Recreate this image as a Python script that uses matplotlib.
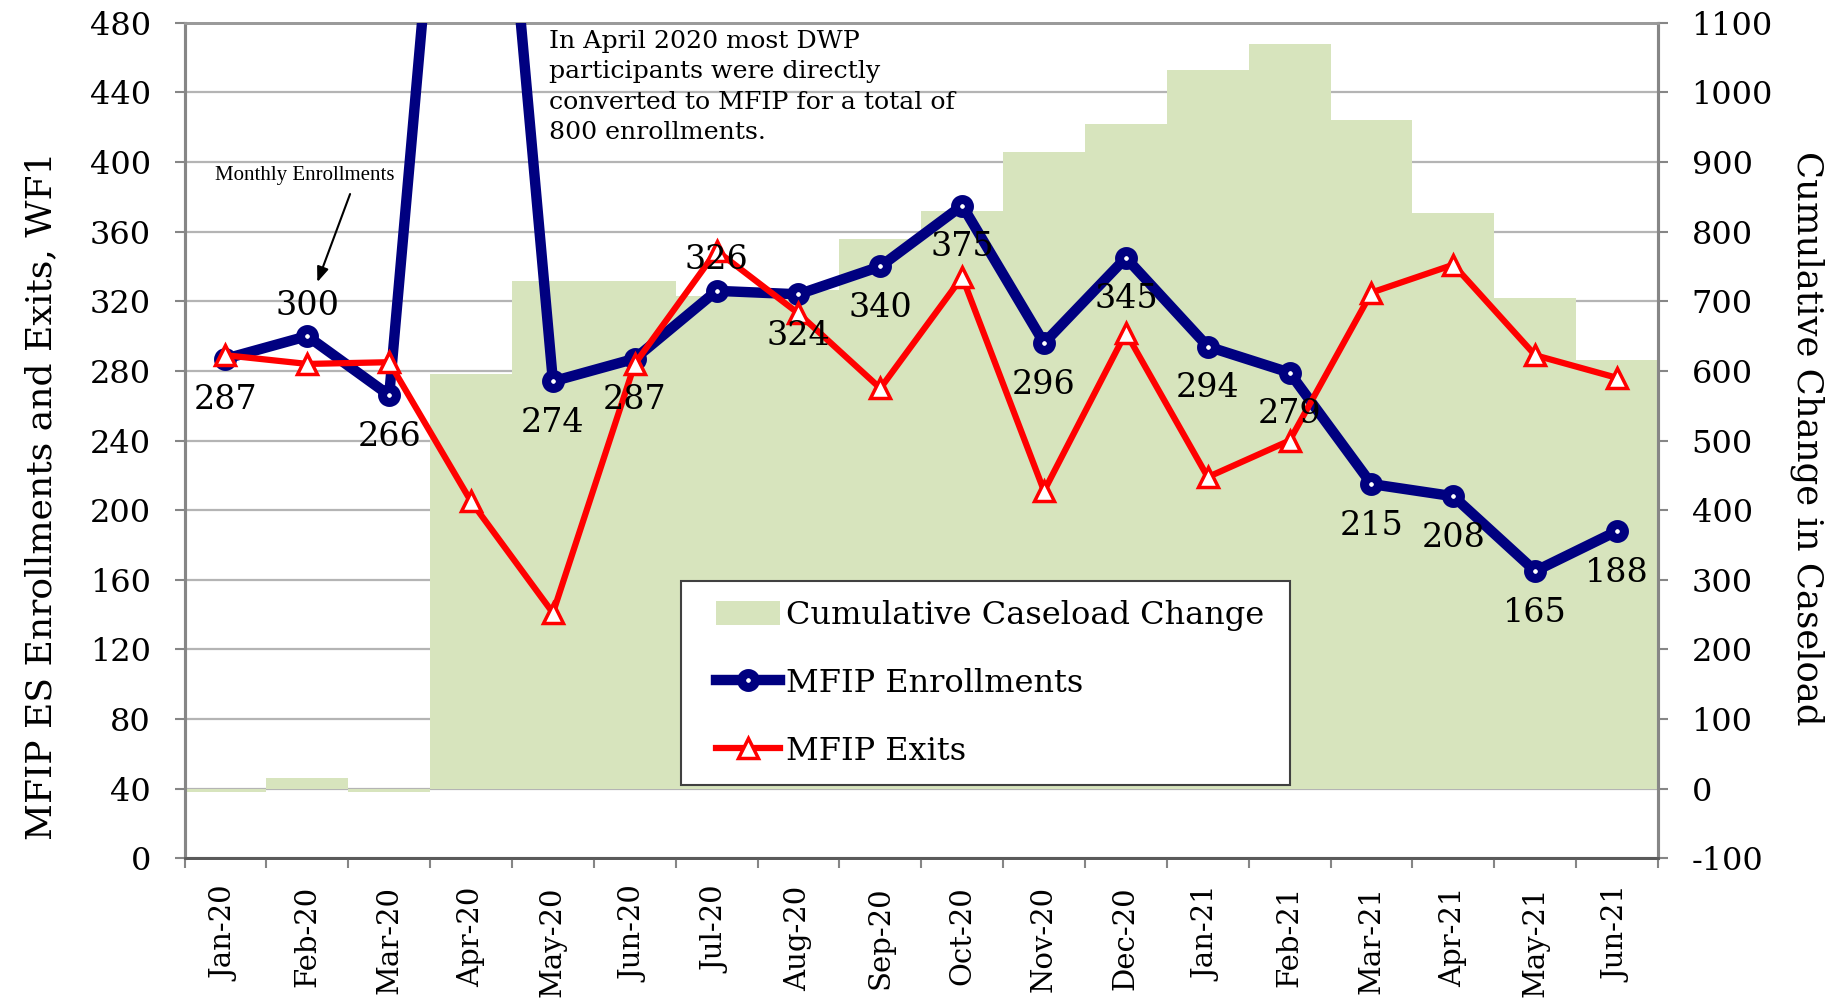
import numpy as np
import matplotlib
matplotlib.use('Agg')
import matplotlib.pyplot as plt
from matplotlib.patches import Rectangle, Patch
from matplotlib.lines import Line2D

plt.rcParams['font.family'] = ['DejaVu Serif']
plt.rcParams['axes.unicode_minus'] = False

months = ['Jan-20', 'Feb-20', 'Mar-20', 'Apr-20', 'May-20', 'Jun-20',
          'Jul-20', 'Aug-20', 'Sep-20', 'Oct-20', 'Nov-20', 'Dec-20',
          'Jan-21', 'Feb-21', 'Mar-21', 'Apr-21', 'May-21', 'Jun-21']
enrollments = [287, 300, 266, 800, 274, 287, 326, 324, 340, 375, 296, 345,
               294, 279, 215, 208, 165, 188]
exits = [289, 284, 285, 205, 141, 284, 349, 313, 270, 334, 211, 302,
         219, 240, 325, 341, 289, 276]
caseload_change = [-5, 16, -5, 596, 729, 729, 708, 716, 790, 830, 915, 955,
                   1032, 1069, 960, 827, 704, 615]
labels_above = ['Feb-20', 'Jul-20']  # these two data labels sit over the marker

NAVY = '#000080'
RED = '#FF0000'
GREEN = '#D7E4BD'
GRID = '#B4B4B4'
AXC = '#868686'

fig = plt.figure(figsize=(18.31, 10.01), dpi=100)
ax = fig.add_axes([0.1008, 0.1425, 0.8047, 0.8348])
ax2 = ax.twinx()
ax.set_zorder(ax2.get_zorder() + 1)
ax.patch.set_visible(False)

x = np.arange(len(months))

# bars on right axis, grid lives here so it stays behind the bars
ax2.bar(x, caseload_change, width=1.0, color=GREEN, zorder=2)
ax2.set_ylim(-100, 1100)
ax2.set_yticks(np.arange(-100, 1101, 100))
ax2.set_axisbelow(True)
ax2.yaxis.grid(True, color=GRID, linewidth=1.6)
ax2.tick_params(axis='y', direction='out', length=7.2, width=1.5, color=AXC,
                labelsize=23, pad=17)
ax2.set_ylabel('Cumulative Change in Caseload', fontsize=25.5, rotation=270)
ax2.yaxis.set_label_coords(1.113, 0.503)

# lines on left axis
enr_style = dict(color=NAVY, lw=7.5, marker='o', ms=10, mew=6.5, mfc='white', mec=NAVY)
ext_style = dict(color=RED, lw=4.5, marker='^', ms=14, mew=2.5, mfc='white', mec=RED)
ax.plot(x, enrollments, zorder=3, **enr_style)
ax.plot(x, exits, zorder=4, **ext_style)
ax.set_ylim(0, 480)
ax.set_yticks(np.arange(0, 481, 40))
ax.set_xlim(-0.5, len(months) - 0.5)
ax.set_xticks(np.arange(-0.5, len(months), 1))
ax.set_xticklabels([])
ax.set_xticks(x, minor=True)
ax.set_xticklabels(months, minor=True, rotation=90, fontsize=21)
ax.tick_params(axis='x', which='major', direction='out', length=7.2, width=1.5, color=AXC)
ax.tick_params(axis='x', which='minor', length=0, pad=20)
ax.tick_params(axis='y', direction='out', length=7.2, width=1.5, color=AXC,
               labelsize=23, pad=17)
ax.set_ylabel('MFIP ES Enrollments and Exits, WF1', fontsize=26)
ax.yaxis.set_label_coords(-0.086, 0.434)

for a in (ax, ax2):
    a.spines['left'].set_color(AXC)
    a.spines['left'].set_linewidth(2.2)
    a.spines['right'].set_color(AXC)
    a.spines['right'].set_linewidth(2.2)
    a.spines['bottom'].set_color('#5a5a5a')
    a.spines['bottom'].set_linewidth(2)
    a.spines['top'].set_color('#9a9a9a')
    a.spines['top'].set_linewidth(2)

# data labels for enrollments
for i, v in enumerate(enrollments):
    if v > 480:
        continue
    off = 22 if months[i] in labels_above else -30
    ax.annotate(str(v), (i, v), xytext=(0, off), textcoords='offset points',
                ha='center', va='center', fontsize=24, zorder=6)

ax.text(3.95, 476, 'In April 2020 most DWP\nparticipants were directly\n'
        'converted to MFIP for a total of\n800 enrollments.',
        ha='left', va='top', fontsize=18.2, linespacing=1.42)

ax.text(0.972, 392, 'Monthly Enrollments', ha='center', va='center',
        fontsize=15, family='Liberation Serif')
ax.annotate('', xy=(1.122, 331), xytext=(1.522, 381.6),
            arrowprops=dict(arrowstyle='-|>,head_length=0.9,head_width=0.35',
                            color='black', lw=1.5, shrinkA=0, shrinkB=0))

# legend with a hand drawn frame
ax.add_patch(Rectangle((0.3366, 0.0872), 0.4138, 0.2447, transform=ax.transAxes,
                       facecolor='white', edgecolor='#404040', lw=1.5, zorder=7))
handles = [Patch(facecolor=GREEN, edgecolor='none'),
           Line2D([], [], **enr_style),
           Line2D([], [], **ext_style)]
leg = ax.legend(handles, ['Cumulative Caseload Change', 'MFIP Enrollments', 'MFIP Exits'],
                loc='upper left', bbox_to_anchor=(0.3607, 0.309), frameon=False,
                fontsize=23, borderpad=0, borderaxespad=0, handlelength=2.0,
                handleheight=0.8, handletextpad=0.2, labelspacing=1.15)
leg.set_zorder(8)

fig.savefig('out.png', dpi=100)
